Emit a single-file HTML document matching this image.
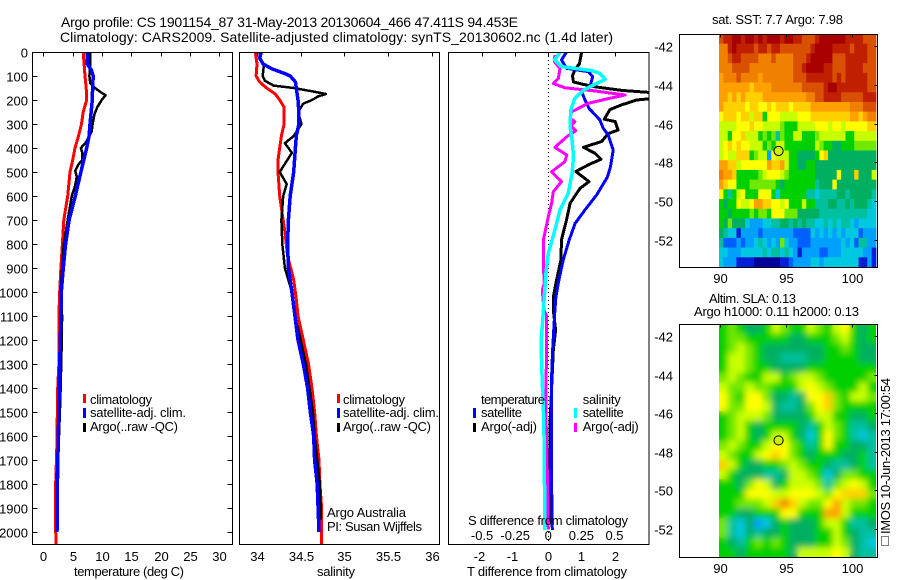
<!DOCTYPE html>
<html>
<head>
<meta charset="utf-8">
<title>Argo profile</title>
<style>
html,body{margin:0;padding:0;background:#fff;}
svg{display:block;}
text{font-family:"Liberation Sans",sans-serif;font-size:13px;fill:#000;}
.t{font-size:14px;}
</style>
</head>
<body>
<svg id="chart" xmlns="http://www.w3.org/2000/svg" width="900" height="580" viewBox="0 0 900 580">
  <defs>
    <clipPath id="clipP3"><rect x="448.5" y="52.5" width="200.5" height="492"/></clipPath>
    <clipPath id="clipP1"><rect x="32.5" y="52.5" width="200" height="492"/></clipPath>
    <clipPath id="clipP2"><rect x="239.5" y="52.5" width="200" height="492"/></clipPath>
    <clipPath id="clipM2"><rect x="719" y="324" width="157" height="233"/></clipPath>
    <filter id="soft" x="-5%" y="-5%" width="110%" height="110%"><feGaussianBlur stdDeviation="3.2"/></filter>
  </defs>
  <rect x="0" y="0" width="900" height="580" fill="#fff"/>

  <text class="t" x="61" y="27" textLength="457" lengthAdjust="spacing">Argo profile: CS 1901154_87 31-May-2013 20130604_466 47.411S 94.453E</text>
  <text class="t" x="60" y="42" textLength="553" lengthAdjust="spacing">Climatology: CARS2009. Satellite-adjusted climatology: synTS_20130602.nc (1.4d later)</text>

  <g id="panel1"></g>
  <g id="panel2"></g>
  <g id="panel3"></g>
  <g id="map1"></g>
  <g id="map2"></g>

  <text x="74" y="576" textLength="110" lengthAdjust="spacing">temperature (deg C)</text>
  <text x="317" y="576" textLength="38" lengthAdjust="spacing">salinity</text>
  <text x="467" y="576" textLength="160" lengthAdjust="spacing">T difference from climatology</text>
  <text x="468" y="525" textLength="160" lengthAdjust="spacing">S difference from climatology</text>

  <g>
    <rect x="83" y="394" width="3" height="9" fill="#f00"/>
    <rect x="83" y="408" width="3" height="10" fill="#00f"/>
    <rect x="83" y="423" width="3" height="9" fill="#000"/>
    <text x="90" y="404" textLength="62" lengthAdjust="spacing">climatology</text>
    <text x="90" y="417" textLength="96" lengthAdjust="spacing">satellite-adj. clim.</text>
    <text x="90" y="431" textLength="88" lengthAdjust="spacing">Argo(..raw -QC)</text>
  </g>
  <g>
    <rect x="337" y="394" width="3" height="9" fill="#f00"/>
    <rect x="337" y="408" width="3" height="10" fill="#00f"/>
    <rect x="337" y="423" width="3" height="9" fill="#000"/>
    <text x="343" y="404" textLength="62" lengthAdjust="spacing">climatology</text>
    <text x="343" y="417" textLength="96" lengthAdjust="spacing">satellite-adj. clim.</text>
    <text x="343" y="431" textLength="88" lengthAdjust="spacing">Argo(..raw -QC)</text>
  </g>
  <g>
    <text x="481" y="404" textLength="64" lengthAdjust="spacing">temperature</text>
    <rect x="473" y="408" width="3" height="10" fill="#00f"/>
    <text x="481" y="417" textLength="41" lengthAdjust="spacing">satellite</text>
    <rect x="473" y="423" width="3" height="9" fill="#000"/>
    <text x="481" y="431" textLength="56" lengthAdjust="spacing">Argo(-adj)</text>
    <text x="582.7" y="404" textLength="38" lengthAdjust="spacing">salinity</text>
    <rect x="574" y="408" width="3" height="10" fill="#0ff"/>
    <text x="582.7" y="417" textLength="41" lengthAdjust="spacing">satellite</text>
    <rect x="574" y="423" width="3" height="9" fill="#f0f"/>
    <text x="582.7" y="431" textLength="56" lengthAdjust="spacing">Argo(-adj)</text>
  </g>

  <text x="327" y="517" textLength="79" lengthAdjust="spacing">Argo Australia</text>
  <text x="327" y="531" textLength="95" lengthAdjust="spacing">PI: Susan Wijffels</text>

  <text x="712" y="24" textLength="131" lengthAdjust="spacing">sat. SST: 7.7 Argo: 7.98</text>
  <text x="709" y="303" textLength="87" lengthAdjust="spacing">Altim. SLA: 0.13</text>
  <text x="694" y="316" textLength="165" lengthAdjust="spacing">Argo h1000: 0.11 h2000: 0.13</text>

  <rect x="881.5" y="536.5" width="7" height="9" fill="none" stroke="#000" stroke-width="1" stroke-dasharray="1 1" shape-rendering="crispEdges"/>
  <text transform="translate(890,534) rotate(-90)" x="0" y="0" textLength="156" lengthAdjust="spacing">IMOS 10-Jun-2013 17:00:54</text>

<script>
// ---------- Temperature profile data (depth m, deg C) ----------
var climTDepth = [0,100,150,200,250,300,350,400,450,500,600,700,800,900,1000,1100,1300,1400,1650,1850,2054];
var climT = [6.8,7.1,7.3,7.4,6.8,6.5,6.0,5.4,5.0,4.55,4.15,3.5,3.25,3.0,2.8,2.65,2.65,2.45,2.3,2.05,2.15];
var satTDepth = [0,50,75,100,150,200,300,350,400,500,600,700,800,900,1000,1100,1300,1450,1800,2000];
var satT = [7.5,7.5,8.2,8.5,8.4,8.35,7.95,7.8,7.4,6.4,5.45,4.4,3.8,3.4,3.07,3.0,2.8,2.67,2.4,2.33];
var argoTDepth = [0,50,100,130,150,165,180,200,230,260,300,330,375,400,420,450,470,495,520,560,600,700,800,900,1000,1100,1250,1450,1600,1770,2000];
var argoT = [8.0,8.0,7.85,8.0,8.8,9.65,10.6,9.95,9.2,8.7,8.4,8.25,7.3,6.4,6.65,6.65,5.95,5.45,5.7,5.4,4.85,4.15,3.5,3.2,2.95,3.2,3.1,2.9,2.67,2.3,2.3];

// ---------- Salinity profile data ----------
var climSDepth = [0,50,100,125,150,175,200,230,300,350,400,450,500,600,650,750,850,950,1030,1100,1200,1300,1400,1500,1600,1700,1800,1900,2054];
var climS = [33.98,34.0,33.99,34.03,34.11,34.21,34.26,34.31,34.31,34.28,34.26,34.24,34.24,34.26,34.28,34.32,34.35,34.42,34.45,34.47,34.53,34.59,34.63,34.66,34.68,34.71,34.72,34.74,34.74];
var satSDepth = [0,25,50,70,90,100,125,150,200,250,300,350,400,500,600,700,800,900,1000,1030,1200,1300,1400,1500,1600,1700,1800,1900,2000];
var satS = [34.05,34.03,34.07,34.17,34.32,34.38,34.44,34.45,34.47,34.48,34.48,34.45,34.44,34.42,34.38,34.36,34.35,34.36,34.40,34.41,34.47,34.53,34.58,34.61,34.65,34.66,34.69,34.70,34.71];
var argoSDepth = [0,30,50,100,120,140,150,165,175,185,200,215,250,300,350,380,420,500,550,600,700,800,900,1000,1100,1200,1300,1400,1500,1600,1700,1800,1900,1950];
var argoS = [34.03,34.03,34.08,34.065,34.09,34.19,34.42,34.65,34.79,34.70,34.63,34.53,34.47,34.51,34.42,34.32,34.40,34.26,34.34,34.30,34.28,34.29,34.32,34.40,34.435,34.5,34.56,34.6,34.64,34.66,34.69,34.72,34.73,34.73];

// ---------- Differences from climatology ----------
var diffArgoTDepth = [0,50,70,100,125,135,145,160,170,193,200,220,240,280,290,325,340,373,397,422,447,470,498,540,568,630,700,783,867,950,1020,1075,1158,1242,1550,1800,1960];
var diffArgoT = [1.01,.94,.81,.73,.76,1.06,1.41,2.22,3.2,3.2,2.67,2.22,1.86,1.69,2.02,2.11,1.81,1.61,1.06,1.41,1.59,1.21,.83,1.23,.96,.66,.55,.4,.38,.25,.15,.15,.22,.15,.05,.05,.07];
var diffSatTDepth = [0,33,68,82,103,144,165,200,235,283,318,346,408,478,520,596,658,714,783,867,950,1020,1075,1117,1242,1353,1800,1992];
var diffSatT = [.55,.4,.55,1.21,1.34,1.26,1.01,1.11,1.23,1.56,1.66,1.81,1.96,1.88,1.79,1.46,1.11,.81,.63,.45,.32,.23,.2,.18,.13,.1,.1,.12];
var diffArgoSDepth = [12,40,68,110,131,149,161,179,197,214,249,276,290,308,328,353,397,429,457,499,540,582,631,686,783,894,964,992,1075,1100,1500,1800,1990];
var diffArgoS = [.05,.046,.088,.076,.038,.125,.33,.58,.43,.30,.177,.164,.20,.17,.207,.14,.05,.14,.125,.025,.10,.038,.025,0,-.037,-.037,-.03,-.045,-.033,-.012,-.018,-.005,0];
var diffSatSDepth = [3,33,61,78,89,114,138,158,193,242,311,367,436,506,589,658,742,839,922,1075,1214,1380,1547,1727,1992];
var diffSatS = [.088,.046,.10,.33,.39,.43,.34,.27,.20,.17,.164,.18,.19,.18,.15,.088,.05,0,-.018,-.037,-.055,-.045,-.033,-.03,-.025];

// ---------- Tick labels ----------
var depthTicks = [0,100,200,300,400,500,600,700,800,900,1000,1100,1200,1300,1400,1500,1600,1700,1800,1900,2000];
var tempTicks = [0,5,10,15,20,25,30];
var salTicks = ["34","34.5","35","35.5","36"];
var tDiffTicks = [-2,-1,0,1,2];
var sDiffTicks = ["-0.5","-0.25","0","0.25","0.5"];
var lonTicks = [90,95,100];
var latTicks = [-42,-44,-46,-48,-50,-52];
var floatLon = 94.453;
var floatLat = -47.411;

// ---------- SST map: colour-scale level for each cell, north to south ----------
var sstCells = [
[14,15,15,16,16,15,16,16,15,16,15,16,16,16,15,16,16,15,15,14,14,14,15,16,16,16,16,16,16,15,15,15,15,14,14,14],
[13,13,15,16,15,15,15,15,14,15,15,14,15,15,14,14,14,14,14,14,14,15,16,16,16,16,15,15,15,15,14,15,15,15,14,14],
[13,13,14,15,15,14,14,14,14,13,13,13,14,13,13,13,13,14,14,14,15,16,16,16,16,16,14,14,14,15,15,15,15,15,14,14],
[13,13,13,14,14,14,14,13,13,13,13,13,13,13,13,13,13,14,14,15,16,16,16,16,15,15,14,14,14,15,15,15,15,14,14,14],
[12,13,13,13,14,13,13,13,13,12,13,13,13,13,13,13,13,14,14,14,15,15,15,15,15,15,14,15,14,15,15,15,15,15,14,14],
[12,12,12,12,12,12,12,11,12,12,12,12,13,13,13,13,13,13,13,14,14,14,14,14,15,16,16,15,15,15,15,15,15,15,14,14],
[12,12,11,12,11,12,11,11,11,11,12,12,12,12,12,12,12,12,12,12,13,13,14,14,15,15,15,15,14,14,14,14,14,15,15,15],
[12,11,11,11,11,11,10,11,11,10,10,11,10,11,11,11,10,11,11,11,11,12,12,12,12,12,12,12,12,12,13,13,13,14,14,14],
[10,11,11,11,10,11,11,9,11,11,7,10,10,10,9,9,9,9,10,10,10,11,11,11,11,11,11,11,11,11,12,12,11,12,13,13],
[9,9,9,9,10,10,10,11,10,10,9,9,9,9,8,7,7,7,9,9,9,9,10,10,10,9,10,10,9,10,10,10,10,10,11,11],
[9,9,7,10,10,11,9,9,9,7,8,7,8,5,8,7,7,9,9,7,7,7,8,9,9,9,9,9,9,7,7,9,9,9,9,9],
[9,10,11,10,11,10,10,9,9,9,7,8,7,9,9,7,7,7,7,7,7,7,9,8,7,7,6,6,7,7,7,8,8,8,8,8],
[9,10,9,9,11,11,11,7,8,9,9,3,10,9,9,9,7,7,6,6,6,6,7,10,11,6,6,6,6,6,6,6,6,6,6,6],
[12,12,11,11,9,10,10,10,10,10,10,12,11,11,12,9,7,7,6,6,7,7,6,6,6,6,6,6,6,6,6,6,6,6,6,6],
[13,12,12,11,7,7,7,7,7,8,9,10,10,10,9,8,7,7,7,7,7,7,6,6,6,6,6,10,6,6,6,11,6,6,6,9],
[12,11,10,10,7,7,7,8,8,8,8,8,8,7,6,7,7,7,7,7,7,7,5,6,6,6,10,6,6,6,6,6,6,6,6,6],
[10,7,5,7,9,10,7,7,7,10,10,10,7,4,7,7,7,7,7,7,5,5,4,5,5,5,5,6,6,5,6,6,6,6,6,5],
[7,6,7,7,10,9,9,10,12,12,11,11,10,10,9,10,7,7,7,9,7,7,5,5,5,6,6,5,5,6,5,6,6,6,5,4],
[7,7,6,7,7,7,7,8,7,8,8,7,10,10,10,8,8,8,6,6,6,6,6,5,5,5,5,5,5,5,5,5,5,5,4,4],
[7,6,8,6,6,6,4,3,3,3,4,4,5,5,6,6,5,6,5,6,5,5,4,4,5,4,5,4,5,5,4,3,4,4,4,4],
[6,5,4,4,1,3,3,3,3,2,3,3,3,3,3,3,3,2,2,2,2,4,3,4,3,4,3,4,3,4,4,4,2,3,3,3],
[5,2,2,2,3,2,3,3,4,5,4,3,4,3,8,4,3,3,2,2,2,3,3,3,3,3,3,3,4,3,4,2,5,5,3,3],
[4,4,3,3,3,4,4,4,4,4,5,4,5,5,4,5,4,3,1,3,3,3,3,2,2,3,3,3,4,4,4,4,4,3,3,1],
[4,3,3,3,1,1,1,1,0,0,0,0,0,0,1,1,2,3,3,3,3,4,4,3,4,4,4,4,4,4,4,4,1,1,3,1]
];

// ---------- SLA map: colour-scale level for each cell, north to south ----------
var slaCells = [
[7,8,7,6,6,7,9,8,7,7,9,8,7,9,10,7,6,7],
[7,8,8,7,7,7,7,7,6,6,7,7,7,8,9,7,6,7],
[7,8,9,8,7,6,6,6,6,6,6,6,7,7,8,7,6,6],
[7,9,9,8,7,6,6,5,5,5,6,6,7,7,7,7,6,6],
[7,9,9,8,7,7,6,6,6,6,7,7,7,7,7,7,7,7],
[8,9,8,7,7,9,9,7,8,9,9,8,7,7,7,7,7,8],
[9,8,8,9,8,8,7,7,7,9,10,9,8,7,7,7,9,7],
[10,8,7,10,10,8,6,6,5,6,10,10,11,8,7,9,9,8],
[10,8,8,10,10,9,6,5,5,6,8,10,11,8,7,7,7,7],
[7,8,9,9,9,8,6,6,6,6,7,9,9,7,7,6,6,7],
[7,8,9,7,6,7,7,7,7,6,5,7,9,8,7,5,5,6],
[7,8,9,7,6,7,9,9,7,6,4,7,10,8,7,5,4,5],
[8,9,8,7,7,9,10,10,8,7,5,7,10,7,7,6,6,5],
[9,8,7,7,9,10,11,10,8,7,6,7,7,7,6,6,7,5],
[11,9,7,6,6,7,7,8,9,8,7,7,6,5,5,6,7,5],
[9,7,6,6,6,5,5,6,9,9,8,7,4,6,8,8,7,7],
[7,7,6,8,10,9,6,7,9,9,9,8,5,8,9,10,9,7],
[7,7,7,10,10,10,9,9,10,10,10,9,8,10,11,11,11,8],
[7,7,8,8,8,9,11,13,11,9,8,8,10,12,9,8,8,7],
[7,7,6,6,7,7,7,10,10,7,7,7,12,12,9,7,7,7],
[8,5,4,6,3,4,6,7,6,6,6,7,9,9,7,5,5,6],
[8,5,4,6,5,6,6,7,6,6,6,7,7,9,7,6,5,5],
[7,6,5,7,8,7,8,7,6,6,6,7,7,9,8,6,5,4],
[7,7,6,7,7,7,7,7,6,9,9,9,9,10,9,6,5,5]
];

var SVGNS = "http://www.w3.org/2000/svg";
var cmap = ["#00009a","#0020d8","#0060ff","#00a0ff","#00c8e0","#00c0a0","#00b060","#00d000","#70e800","#c8ff00","#ffff00","#ffd000","#ffa000","#f08000","#d85000","#c02000","#a80000"];

function mk(parent, tag){
  var el = document.createElementNS(SVGNS, tag);
  parent.appendChild(el);
  return el;
}

// axis functions
function yDepth(d){ return 52 + 0.24 * d; }
function xTemp(t){ return 43.3 + 5.87 * t; }
function xSal(s){ return 257 + 87.3 * (s - 34); }
function xDiffT(d){ return 548.3 + 33.1 * d; }
function xDiffS(s){ return 548.3 + 132.4 * s; }
function xLon(lon){ return 720 + 13.15 * (lon - 90); }
function yLat1(lat){ return 46 + 19.4 * (-42 - lat); }
function yLat2(lat){ return 336 + 19.3 * (-42 - lat); }

function drawLine(parent, depths, vals, xf, color, w, name, clip){
  var pts = [];
  for (var i = 0; i < vals.length; i++){
    pts.push(xf(vals[i]).toFixed(1) + "," + yDepth(depths[i]).toFixed(1));
  }
  var p = mk(parent, "polyline");
  p.setAttribute("points", pts.join(" "));
  p.setAttribute("fill", "none");
  p.setAttribute("stroke", color);
  p.setAttribute("stroke-width", w);
  p.setAttribute("stroke-linejoin", "round");
  p.setAttribute("shape-rendering", "crispEdges");
  p.setAttribute("clip-path", "url(#" + clip + ")");
  
  
}

function tick(parent, x1, y1, x2, y2, name){
  var l = mk(parent, "line");
  l.setAttribute("x1", x1); l.setAttribute("y1", y1);
  l.setAttribute("x2", x2); l.setAttribute("y2", y2);
  l.setAttribute("stroke", "#000");
  l.setAttribute("shape-rendering", "crispEdges");
  
  
}

function label(parent, x, y, str, anchor, name){
  var t = mk(parent, "text");
  t.setAttribute("x", x);
  t.setAttribute("y", y);
  t.setAttribute("text-anchor", anchor);
  t.textContent = str;
  
  
}

function box(parent, x, y, w, h, name){
  var r = mk(parent, "rect");
  r.setAttribute("x", x); r.setAttribute("y", y);
  r.setAttribute("width", w); r.setAttribute("height", h);
  r.setAttribute("fill", "none");
  r.setAttribute("stroke", "#000");
  r.setAttribute("shape-rendering", "crispEdges");
  
  
}

// ----- Panel 1
var p1 = document.getElementById("panel1");
drawLine(p1, climTDepth, climT, xTemp, "#f00", 3, "climatology-temperature-line", "clipP1");
drawLine(p1, argoTDepth, argoT, xTemp, "#000", 2.5, "argo-temperature-line", "clipP1");
drawLine(p1, satTDepth, satT, xTemp, "#00f", 3.5, "satellite-temperature-line", "clipP1");
box(p1, 32.5, 52.5, 200, 492, "temperature-plot-frame");
depthTicks.forEach(function(d){
  var y = Math.round(yDepth(d)) + 0.5;
  tick(p1, 32.5, y, 37.5, y, "depth-tick-left");
  tick(p1, 227.5, y, 232.5, y, "depth-tick-right");
  label(p1, 28, y + 5, String(d), "end", "depth-tick-label");
});
tempTicks.forEach(function(t){
  var x = Math.round(xTemp(t)) + 0.5;
  tick(p1, x, 52.5, x, 56.5, "temperature-tick");
  label(p1, x, 561, String(t), "middle", "temperature-tick-label");
});

// ----- Panel 2
var p2 = document.getElementById("panel2");
drawLine(p2, climSDepth, climS, xSal, "#f00", 3, "climatology-salinity-line", "clipP2");
drawLine(p2, argoSDepth, argoS, xSal, "#000", 2.5, "argo-salinity-line", "clipP2");
drawLine(p2, satSDepth, satS, xSal, "#00f", 3.5, "satellite-salinity-line", "clipP2");
box(p2, 239.5, 52.5, 200, 492, "salinity-plot-frame");
salTicks.forEach(function(s){
  var x = Math.round(xSal(parseFloat(s))) + 0.5;
  tick(p2, x, 52.5, x, 56.5, "salinity-tick");
  label(p2, x, 561, s, "middle", "salinity-tick-label");
});

// ----- Panel 3
var p3 = document.getElementById("panel3");
var zero = mk(p3, "line");
zero.setAttribute("x1", xDiffT(0));
zero.setAttribute("x2", xDiffT(0));
zero.setAttribute("y1", 52);
zero.setAttribute("y2", 545);
zero.setAttribute("stroke", "#000");
zero.setAttribute("stroke-dasharray", "1 3");
zero.setAttribute("shape-rendering", "crispEdges");


drawLine(p3, diffArgoTDepth, diffArgoT, xDiffT, "#000", 3, "argo-temperature-difference-line", "clipP3");
drawLine(p3, diffSatTDepth, diffSatT, xDiffT, "#00f", 3, "satellite-temperature-difference-line", "clipP3");
drawLine(p3, diffArgoSDepth, diffArgoS, xDiffS, "#f0f", 3, "argo-salinity-difference-line", "clipP3");
drawLine(p3, diffSatSDepth, diffSatS, xDiffS, "#0ff", 3.5, "satellite-salinity-difference-line", "clipP3");
box(p3, 448.5, 52.5, 200.5, 492, "difference-plot-frame");
tDiffTicks.forEach(function(d){
  var x = Math.round(xDiffT(d)) + 0.5;
  tick(p3, x, 52.5, x, 56.5, "t-difference-tick");
  label(p3, x - (d < 0 ? 3 : 0), 561, String(d), "middle", "t-difference-tick-label");
});
sDiffTicks.forEach(function(s){
  label(p3, xDiffS(parseFloat(s)), 540, s, "middle", "s-difference-tick-label");
});

// ----- Maps
function drawCells(parent, cells, x0, y0, totalW, totalH, name){
  var rows = cells.length;
  var cols = cells[0].length;
  var w = totalW / cols;
  var h = totalH / rows;
  for (var r = 0; r < rows; r++){
    for (var c = 0; c < cols; c++){
      var v = Math.max(0, Math.min(cmap.length - 1, Math.round(cells[r][c])));
      var cell = mk(parent, "rect");
      cell.setAttribute("x", (x0 + c * w).toFixed(2));
      cell.setAttribute("y", (y0 + r * h).toFixed(2));
      cell.setAttribute("width", (w + 0.4).toFixed(2));
      cell.setAttribute("height", (h + 0.4).toFixed(2));
      cell.setAttribute("fill", cmap[v]);
      
      
    }
  }
}

function mapAxes(parent, yf, top, bottom, prefix){
  var frame = mk(parent, "rect");
  frame.setAttribute("x", 679.5);
  frame.setAttribute("y", top + 0.5);
  frame.setAttribute("width", 198);
  frame.setAttribute("height", bottom - top);
  frame.setAttribute("fill", "none");
  frame.setAttribute("stroke", "#000");
  frame.setAttribute("shape-rendering", "crispEdges");
  
  
  lonTicks.forEach(function(lon){
    var x = Math.round(xLon(lon)) + 0.5;
    tick(parent, x, top + 0.5, x, top + 3.5, prefix + "-longitude-tick");
    label(parent, x, bottom + 16, String(lon), "middle", prefix + "-longitude-label");
  });
  latTicks.forEach(function(lat){
    var y = Math.round(yf(lat)) + 0.5;
    tick(parent, 874.5, y, 877.5, y, prefix + "-latitude-tick");
    label(parent, 673, y + 5, String(lat), "end", prefix + "-latitude-label");
  });
}

function marker(parent, cx, cy, name){
  var m = mk(parent, "circle");
  m.setAttribute("cx", cx);
  m.setAttribute("cy", cy);
  m.setAttribute("r", 4.6);
  m.setAttribute("fill", "#c8f000");
  m.setAttribute("stroke", "#000");
  
  
}

var m1 = document.getElementById("map1");
drawCells(m1, sstCells, 719, 34, 157, 233, "sst-cell");
mapAxes(m1, yLat1, 34, 267, "sst");
marker(m1, xLon(floatLon), yLat1(floatLat), "argo-float-marker-sst");

var m2 = document.getElementById("map2");
var m2clip = mk(m2, "g");
m2clip.setAttribute("clip-path", "url(#clipM2)");


var m2base = mk(m2clip, "g");


drawCells(m2base, slaCells, 719, 324, 157, 233, "sla-cell-base");
var m2soft = mk(m2clip, "g");
m2soft.setAttribute("filter", "url(#soft)");


drawCells(m2soft, slaCells, 719, 324, 157, 233, "sla-cell");
mapAxes(m2, yLat2, 324, 557, "sla");
marker(m2, xLon(floatLon), yLat2(floatLat), "argo-float-marker-sla");
</script>
</svg>
</body>
</html>
